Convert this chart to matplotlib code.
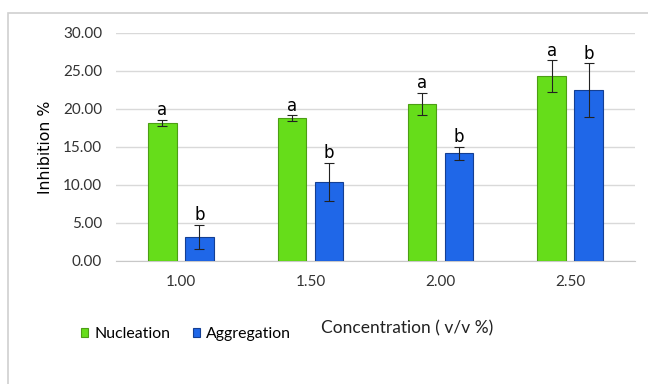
import numpy as np
import matplotlib.pyplot as plt
from matplotlib.patches import Rectangle

# data
concentrations = ['1.00', '1.50', '2.00', '2.50']
nucleation = [18.2, 18.8, 20.7, 24.3]
nucleation_err = [0.4, 0.35, 1.45, 2.1]
aggregation = [3.15, 10.4, 14.2, 22.5]
aggregation_err = [1.6, 2.5, 0.85, 3.5]
nucleation_letters = ['a', 'a', 'a', 'a']
aggregation_letters = ['b', 'b', 'b', 'b']

GREEN = '#66dd1a'
GREEN_EDGE = '#4c9e14'
BLUE = '#1f67e8'
BLUE_EDGE = '#143f93'

fig = plt.figure(figsize=(6.48, 3.84), dpi=100)
ax = fig.add_axes([116/648, 1-261/384, 519/648, 228/384])

# outer chart frame
fig.patches.append(Rectangle((8/648, -0.1), 1.2, 1-13/384+0.1, transform=fig.transFigure,
                             fill=False, edgecolor='#d0d0d0', linewidth=1.2))

x = np.arange(len(concentrations))
w = 0.22
off = 0.142

b1 = ax.bar(x - off, nucleation, w, color=GREEN, edgecolor=GREEN_EDGE, linewidth=0.8,
            label='Nucleation', zorder=3)
b2 = ax.bar(x + off, aggregation, w, color=BLUE, edgecolor=BLUE_EDGE, linewidth=0.8,
            label='Aggregation', zorder=3)
ax.errorbar(x - off, nucleation, yerr=nucleation_err, fmt='none', ecolor='#222222',
            elinewidth=0.8, capsize=3.5, capthick=0.8, zorder=4)
ax.errorbar(x + off, aggregation, yerr=aggregation_err, fmt='none', ecolor='#222222',
            elinewidth=0.8, capsize=3.5, capthick=0.8, zorder=4)

for xi, v, e, t in zip(x - off, nucleation, nucleation_err, nucleation_letters):
    ax.annotate(t, (xi, v + e), xytext=(0, 0.5), textcoords='offset points',
                ha='center', va='bottom', fontsize=12, family='DejaVu Sans')
for xi, v, e, t in zip(x + off, aggregation, aggregation_err, aggregation_letters):
    ax.annotate(t, (xi, v + e), xytext=(0, 0.5), textcoords='offset points',
                ha='center', va='bottom', fontsize=12, family='DejaVu Sans')

ax.set_xlim(-0.5, len(concentrations) - 0.5)
ax.set_ylim(0, 30)
ax.set_yticks(np.arange(0, 30.1, 5))
ax.set_yticklabels([f'{v:.2f}' for v in np.arange(0, 30.1, 5)])
ax.set_xticks(x)
ax.set_xticklabels(concentrations)
ax.tick_params(length=0, labelsize=11, labelcolor='#333333')
ax.tick_params(axis='y', pad=10)
ax.tick_params(axis='x', pad=10)
for lab in ax.get_xticklabels() + ax.get_yticklabels():
    lab.set_family('Lato')

ax.grid(axis='y', color='#d9d9d9', linewidth=1, zorder=0)
for s in ['top', 'right', 'left']:
    ax.spines[s].set_visible(False)
ax.spines['bottom'].set_color('#c8c8c8')
ax.spines['bottom'].set_zorder(1)

ax.set_ylabel('Inhibition %', fontsize=11.3, family='DejaVu Sans')
ax.yaxis.set_label_coords(-(116 - 45.5) / 519, 0.5)
ax.yaxis.label.set_va('center')

fig.text(407/648, 1-328/384, 'Concentration ( v/v %)', ha='center', va='center',
         fontsize=12.5, family='Lato', color='#222222')

leg = fig.legend(handles=[b1, b2], loc='center', bbox_to_anchor=(186/648, 1-334/384),
                 ncol=2, frameon=False, handlelength=0.45, handleheight=0.45,
                 handletextpad=0.4, columnspacing=1.4, borderpad=0,
                 prop={'family': 'Lato', 'size': 11.4})

fig.savefig('out.png', dpi=100)
